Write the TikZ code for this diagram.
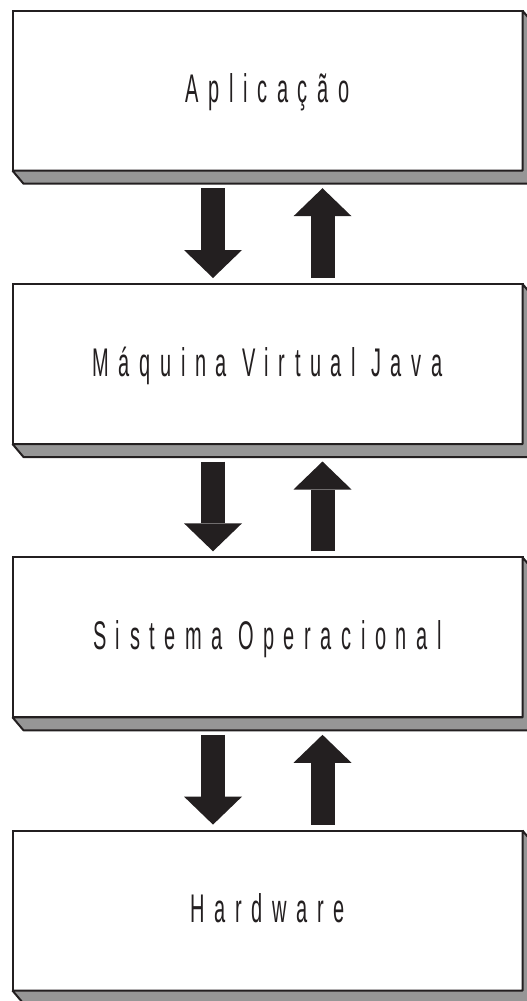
\documentclass[tikz,border=0pt]{standalone}
\usepackage{fontspec}
\usetikzlibrary{positioning,calc,arrows.meta}
\definecolor{ink}{RGB}{35,31,32}
\definecolor{bevel}{RGB}{150,150,150}
\newfontfamily\layerfont[FakeStretch=0.5,LetterSpace=24]{Liberation Sans}

\begin{document}
\begin{tikzpicture}[x=1pt,y=-1pt,
    layer/.style={draw=ink, line width=2pt, fill=white, minimum width=510pt, minimum height=160pt,
        inner sep=0pt, outer sep=0pt, text=ink, text height=28pt, text depth=4pt,
        font=\layerfont\fontsize{40}{41}\selectfont},
    base/.style={draw=ink, fill=bevel, line width=2pt, line join=bevel},
    flow/.style={draw=ink, line width=24pt, -{Triangle[width=58pt,length=28pt,line width=0pt]}},
    node distance=113.3pt]

    \useasboundingbox (0,0) rectangle (527,1001);

    \node[layer] (app) at (267.5,90.7) {Aplicação};
    \node[layer, below=of app] (jvm) {Máquina Virtual Java};
    \node[layer, below=of jvm] (os) {Sistema Operacional};
    \node[layer, below=of os] (hw) {Hardware};

    % bevel under and right of each layer
    \foreach \b in {app,jvm,os,hw}
        \draw[base] (\b.south west) -- ++(11,13) -- ($(\b.south east)+(11,13)$)
            -- ($(\b.north east)+(11,13)$) -- (\b.north east) -- (\b.south east) -- cycle;

    % calls down, results up
    \foreach \a/\b in {app/jvm,jvm/os,os/hw} {
        \draw[flow] ($(\a.south)+(-54.5,17.5)$) -- ($(\b.north)+(-54.5,-6)$);
        \draw[flow] ($(\b.north)+(55,-6)$) -- ($(\a.south)+(55,17.5)$);
    }
\end{tikzpicture}
\end{document}
